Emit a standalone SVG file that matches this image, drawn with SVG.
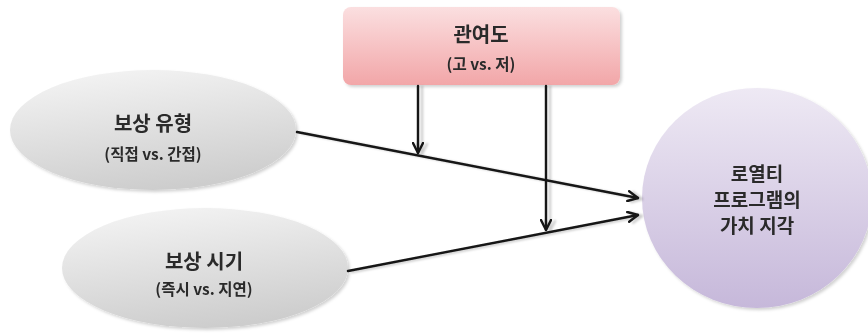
<svg xmlns="http://www.w3.org/2000/svg" width="868" height="333" viewBox="0 0 868 333">
  <style>
    .t { font-family: "Noto Sans CJK KR", "Noto Sans", sans-serif; fill: #2a2a2a; text-anchor: middle; }
    .title { font-size: 20px; font-weight: 700; }
    .center { font-size: 19px; font-weight: 700; }
    .sub { font-size: 15.5px; font-weight: 700; }
    .conn { fill: none; stroke: #151515; stroke-width: 2.4; stroke-linecap: round; }
  </style>
  <defs>
    <linearGradient id="gPink" x1="0" y1="0" x2="0" y2="1">
      <stop offset="0" stop-color="#fbdfe0"/>
      <stop offset="1" stop-color="#f2a6a8"/>
    </linearGradient>
    <linearGradient id="gGray" x1="0.2" y1="0" x2="0.5" y2="1">
      <stop offset="0" stop-color="#f4f4f4"/>
      <stop offset="1" stop-color="#cdcdcd"/>
    </linearGradient>
    <linearGradient id="gLav" x1="0" y1="0" x2="0" y2="1">
      <stop offset="0" stop-color="#eee9f4"/>
      <stop offset="1" stop-color="#c6b8da"/>
    </linearGradient>
    <filter id="soft" x="-10%" y="-10%" width="125%" height="125%">
      <feGaussianBlur in="SourceAlpha" stdDeviation="1.5"/>
      <feOffset dx="2" dy="2" result="b"/>
      <feFlood flood-color="#000" flood-opacity="0.18"/>
      <feComposite in2="b" operator="in"/>
      <feMerge><feMergeNode/><feMergeNode in="SourceGraphic"/></feMerge>
    </filter>
    <filter id="lineShadow" x="-20%" y="-20%" width="140%" height="140%">
      <feGaussianBlur in="SourceAlpha" stdDeviation="1"/>
      <feOffset dx="4" dy="1" result="b"/>
      <feFlood flood-color="#000" flood-opacity="0.2"/>
      <feComposite in2="b" operator="in"/>
      <feMerge><feMergeNode/><feMergeNode in="SourceGraphic"/></feMerge>
    </filter>
    <marker id="arrow" viewBox="0 0 12 12" refX="11" refY="6" markerWidth="12" markerHeight="12" markerUnits="userSpaceOnUse" orient="auto">
      <path d="M1,1 L11,6 L1,11" fill="none" stroke="#151515" stroke-width="2.4" stroke-linecap="round" stroke-linejoin="round"/>
    </marker>
  </defs>

  <g id="involvement" filter="url(#soft)">
    <rect x="343" y="7" width="277" height="78" rx="8" fill="url(#gPink)"/>
    <text class="t title" x="481" y="42">관여도</text>
    <text class="t sub" x="481" y="70">(고 vs. 저)</text>
  </g>

  <g id="reward-type" filter="url(#soft)">
    <ellipse cx="153" cy="130" rx="143" ry="60" fill="url(#gGray)"/>
    <text class="t title" x="153" y="131">보상 유형</text>
    <text class="t sub" x="153" y="160">(직접 vs. 간접)</text>
  </g>

  <g id="reward-timing" filter="url(#soft)">
    <ellipse cx="205" cy="268" rx="143" ry="60" fill="url(#gGray)"/>
    <text class="t title" x="204" y="269">보상 시기</text>
    <text class="t sub" x="204" y="295">(즉시 vs. 지연)</text>
  </g>

  <g id="perceived-value" filter="url(#soft)">
    <ellipse cx="757" cy="198" rx="115" ry="110" fill="url(#gLav)"/>
    <text class="t center" x="757" y="181">로열티</text>
    <text class="t center" x="757" y="207">프로그램의</text>
    <text class="t center" x="757" y="233">가치 지각</text>
  </g>

  <g id="connectors" filter="url(#lineShadow)">
    <line class="conn" x1="297" y1="132" x2="638" y2="198" marker-end="url(#arrow)"/>
    <line class="conn" x1="348" y1="271" x2="638" y2="215" marker-end="url(#arrow)"/>
    <line class="conn" x1="418" y1="86" x2="418" y2="153" marker-end="url(#arrow)"/>
    <line class="conn" x1="546" y1="86" x2="546" y2="230" marker-end="url(#arrow)"/>
  </g>
</svg>
